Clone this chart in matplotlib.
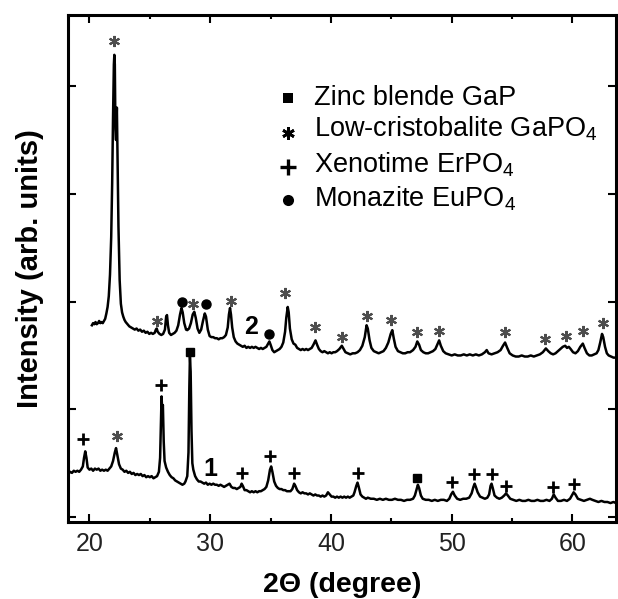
import matplotlib
matplotlib.use("Agg")
import matplotlib.pyplot as plt
from matplotlib.ticker import MultipleLocator

plt.rcParams['font.family'] = ['Liberation Sans', 'DejaVu Sans']
plt.rcParams['mathtext.fontset'] = 'custom'
plt.rcParams['mathtext.rm'] = 'Liberation Sans'
plt.rcParams['mathtext.it'] = 'Liberation Sans:italic'
plt.rcParams['mathtext.bf'] = 'Liberation Sans:bold'

# pattern 1 (bottom trace)
p1_theta = [18.25, 18.4, 18.55, 18.7, 18.85, 19.0, 19.15, 19.3, 19.45, 19.55, 19.65, 19.75, 19.85,
            20.0, 20.15, 20.3, 20.45, 20.6, 20.75, 20.9, 21.05, 21.2, 21.35, 21.5, 21.65, 21.8,
            21.95, 22.1, 22.2, 22.3, 22.45, 22.6, 22.75, 22.9, 23.05, 23.2, 23.35, 23.5, 23.65,
            23.8, 23.95, 24.1, 24.25, 24.4, 24.55, 24.7, 24.85, 25.0, 25.15, 25.3, 25.45, 25.6,
            25.75, 25.85, 25.92, 25.97, 26.02, 26.08, 26.15, 26.22, 26.35, 26.5, 26.65, 26.8,
            26.95, 27.1, 27.25, 27.4, 27.55, 27.7, 27.85, 27.95, 28.1, 28.2, 28.27, 28.32, 28.38,
            28.45, 28.52, 28.6, 28.75, 28.9, 29.05, 29.2, 29.35, 29.5, 29.65, 29.8, 29.95, 30.1,
            30.25, 30.4, 30.55, 30.7, 30.85, 31.0, 31.15, 31.3, 31.45, 31.6, 31.75, 31.9, 32.05,
            32.2, 32.35, 32.5, 32.6, 32.7, 32.85, 33.0, 33.15, 33.3, 33.45, 33.6, 33.75, 33.9,
            34.05, 34.2, 34.35, 34.5, 34.65, 34.8, 34.95, 35.05, 35.15, 35.3, 35.45, 35.6, 35.75,
            35.9, 36.05, 36.2, 36.35, 36.5, 36.65, 36.8, 36.95, 37.05, 37.2, 37.35, 37.5, 37.65,
            37.8, 37.95, 38.1, 38.25, 38.4, 38.55, 38.7, 38.85, 39.0, 39.15, 39.3, 39.45, 39.6,
            39.75, 39.9, 40.05, 40.2, 40.35, 40.5, 40.65, 40.8, 40.95, 41.1, 41.25, 41.4, 41.55,
            41.7, 41.85, 41.95, 42.1, 42.2, 42.3, 42.45, 42.6, 42.75, 42.9, 43.05, 43.3, 43.55,
            43.8, 44.05, 44.3, 44.55, 44.8, 45.05, 45.3, 45.55, 45.8, 46.05, 46.3, 46.55, 46.8,
            46.95, 47.1, 47.2, 47.3, 47.45, 47.6, 47.85, 48.1, 48.35, 48.6, 48.85, 49.1, 49.35,
            49.6, 49.8, 49.95, 50.1, 50.25, 50.45, 50.7, 50.95, 51.2, 51.45, 51.65, 51.8, 51.9,
            52.0, 52.15, 52.35, 52.55, 52.75, 52.95, 53.1, 53.22, 53.3, 53.4, 53.55, 53.75, 53.95,
            54.15, 54.35, 54.5, 54.65, 54.85, 55.1, 55.35, 55.6, 55.85, 56.1, 56.35, 56.6, 56.85,
            57.1, 57.35, 57.6, 57.85, 58.1, 58.3, 58.45, 58.6, 58.8, 59.05, 59.3, 59.55, 59.8,
            59.95, 60.1, 60.25, 60.45, 60.7, 60.95, 61.2, 61.45, 61.65, 61.9, 62.15, 62.4, 62.65,
            62.9, 63.15, 63.4, 63.6]
p1_int = [0.40, 0.42, 0.41, 0.43, 0.42, 0.43, 0.42, 0.44, 0.47, 0.55, 0.61, 0.55, 0.46,
          0.44, 0.45, 0.43, 0.45, 0.44, 0.45, 0.43, 0.44, 0.43, 0.44, 0.43, 0.45, 0.47,
          0.52, 0.60, 0.64, 0.58, 0.49, 0.45, 0.44, 0.42, 0.43, 0.41, 0.42, 0.40, 0.41,
          0.39, 0.40, 0.39, 0.40, 0.38, 0.39, 0.37, 0.38, 0.37, 0.38, 0.36, 0.37, 0.38,
          0.42, 0.55, 0.90, 1.12, 1.00, 1.04, 0.70, 0.52, 0.46, 0.42, 0.39, 0.37,
          0.36, 0.34, 0.33, 0.32, 0.31, 0.30, 0.31, 0.33, 0.38, 0.60, 1.20, 1.49, 1.35,
          0.80, 0.50, 0.44, 0.38, 0.35, 0.33, 0.33, 0.32, 0.31, 0.32, 0.30, 0.31, 0.30,
          0.31, 0.30, 0.30, 0.29, 0.30, 0.29, 0.28, 0.29, 0.30, 0.31, 0.28, 0.27, 0.27,
          0.26, 0.27, 0.28, 0.31, 0.29, 0.25, 0.25, 0.24, 0.23, 0.24, 0.23, 0.24, 0.23,
          0.24, 0.24, 0.25, 0.26, 0.28, 0.34, 0.44, 0.47, 0.42, 0.33, 0.29, 0.27, 0.26,
          0.26, 0.25, 0.25, 0.24, 0.24, 0.24, 0.26, 0.31, 0.29, 0.25, 0.23, 0.22, 0.23,
          0.22, 0.22, 0.21, 0.22, 0.21, 0.20, 0.21, 0.20, 0.20, 0.19, 0.20, 0.19, 0.20,
          0.23, 0.21, 0.19, 0.19, 0.18, 0.19, 0.18, 0.19, 0.18, 0.19, 0.18, 0.19, 0.18,
          0.19, 0.20, 0.23, 0.29, 0.32, 0.28, 0.21, 0.19, 0.18, 0.17, 0.18, 0.17, 0.17,
          0.16, 0.17, 0.16, 0.17, 0.16, 0.16, 0.17, 0.16, 0.16, 0.15, 0.16, 0.16, 0.17,
          0.20, 0.26, 0.30, 0.27, 0.20, 0.17, 0.16, 0.16, 0.15, 0.16, 0.15, 0.16, 0.16,
          0.15, 0.17, 0.21, 0.235, 0.20, 0.17, 0.16, 0.17, 0.17, 0.18, 0.22, 0.28, 0.31,
          0.28, 0.23, 0.19, 0.18, 0.17, 0.18, 0.21, 0.29, 0.31, 0.27, 0.20, 0.18, 0.17,
          0.18, 0.20, 0.22, 0.20, 0.17, 0.16, 0.15, 0.16, 0.15, 0.15, 0.16, 0.15, 0.15,
          0.16, 0.15, 0.15, 0.16, 0.15, 0.17, 0.21, 0.18, 0.15, 0.15, 0.16, 0.15, 0.17,
          0.20, 0.23, 0.21, 0.17, 0.16, 0.15, 0.16, 0.17, 0.16, 0.15, 0.14, 0.15, 0.14,
          0.14, 0.13, 0.14, 0.13]

# pattern 2 (top trace)
p2_theta = [20.2, 20.3, 20.4, 20.5, 20.6, 20.7, 20.8, 20.9, 21.0, 21.1, 21.2, 21.3, 21.4, 21.5,
            21.6, 21.7, 21.8, 21.88, 21.95, 22.02, 22.06, 22.1, 22.15, 22.2, 22.27, 22.32, 22.4,
            22.5, 22.6, 22.7, 22.8, 22.9, 23.0, 23.15, 23.3, 23.45, 23.6, 23.75, 23.9, 24.05,
            24.2, 24.35, 24.5, 24.65, 24.8, 24.95, 25.1, 25.25, 25.4, 25.5, 25.57, 25.65, 25.8,
            25.95, 26.1, 26.25, 26.35, 26.42, 26.5, 26.6, 26.75, 26.9, 27.05, 27.2, 27.35, 27.5,
            27.62, 27.72, 27.85, 28.0, 28.1, 28.25, 28.4, 28.55, 28.68, 28.8, 28.95, 29.1, 29.25,
            29.4, 29.55, 29.65, 29.8, 29.95, 30.1, 30.25, 30.4, 30.55, 30.7, 30.85, 31.0, 31.15,
            31.3, 31.45, 31.55, 31.64, 31.72, 31.82, 31.95, 32.1, 32.25, 32.4, 32.55, 32.7, 32.85,
            33.0, 33.15, 33.3, 33.45, 33.6, 33.75, 33.9, 34.05, 34.2, 34.35, 34.5, 34.65, 34.8,
            34.9, 35.0, 35.15, 35.3, 35.45, 35.6, 35.75, 35.9, 36.05, 36.2, 36.3, 36.42, 36.5,
            36.6, 36.75, 36.9, 37.05, 37.2, 37.35, 37.5, 37.65, 37.8, 37.95, 38.1, 38.25, 38.4,
            38.55, 38.72, 38.85, 39.0, 39.15, 39.3, 39.45, 39.6, 39.75, 39.9, 40.05, 40.2, 40.35,
            40.5, 40.7, 40.9, 41.05, 41.2, 41.4, 41.6, 41.8, 42.0, 42.2, 42.4, 42.6, 42.8, 42.95,
            43.05, 43.2, 43.35, 43.55, 43.75, 43.95, 44.15, 44.35, 44.55, 44.75, 44.95, 45.08,
            45.2, 45.35, 45.55, 45.75, 45.95, 46.15, 46.35, 46.55, 46.8, 47.0, 47.15, 47.3, 47.45,
            47.65, 47.85, 48.05, 48.25, 48.45, 48.65, 48.85, 48.96, 49.1, 49.3, 49.5, 49.75, 50.0,
            50.25, 50.5, 50.75, 51.0, 51.25, 51.5, 51.75, 52.0, 52.25, 52.5, 52.75, 52.9, 53.05,
            53.3, 53.55, 53.8, 54.05, 54.25, 54.42, 54.6, 54.8, 55.05, 55.3, 55.55, 55.8, 56.05,
            56.3, 56.55, 56.8, 57.05, 57.3, 57.55, 57.8, 58.0, 58.2, 58.4, 58.6, 58.8, 59.0, 59.2,
            59.4, 59.55, 59.7, 59.85, 60.05, 60.25, 60.45, 60.65, 60.86, 61.0, 61.2, 61.4, 61.6,
            61.8, 62.0, 62.15, 62.3, 62.45, 62.55, 62.7, 62.85, 63.0, 63.2, 63.4, 63.6]
p2_int = [1.78, 1.80, 1.79, 1.81, 1.79, 1.80, 1.82, 1.80, 1.81, 1.80, 1.82, 1.84, 1.89, 1.95,
          2.05, 2.25, 2.60, 3.10, 3.70, 4.20, 4.29, 4.20, 3.60, 3.50, 3.80, 3.40, 2.70,
          2.20, 1.98, 1.90, 1.86, 1.83, 1.81, 1.79, 1.77, 1.76, 1.75, 1.74, 1.75, 1.73,
          1.74, 1.72, 1.73, 1.71, 1.72, 1.70, 1.71, 1.70, 1.71, 1.74, 1.75, 1.72, 1.70,
          1.69, 1.70, 1.74, 1.86, 1.875, 1.78, 1.71, 1.69, 1.70, 1.71, 1.73, 1.78, 1.88,
          1.94, 1.90, 1.80, 1.74, 1.735, 1.75, 1.80, 1.88, 1.905, 1.85, 1.75, 1.71, 1.74,
          1.82, 1.89, 1.86, 1.74, 1.68, 1.67, 1.67, 1.66, 1.66, 1.65, 1.66, 1.66, 1.67,
          1.69, 1.76, 1.88, 1.94, 1.88, 1.76, 1.67, 1.63, 1.61, 1.60, 1.59, 1.58, 1.59,
          1.57, 1.58, 1.57, 1.58, 1.57, 1.58, 1.57, 1.56, 1.57, 1.56, 1.57, 1.58, 1.61,
          1.63, 1.60, 1.55, 1.53, 1.54, 1.55, 1.56, 1.58, 1.62, 1.72, 1.85, 1.95, 1.90,
          1.75, 1.65, 1.61, 1.60, 1.57, 1.56, 1.55, 1.56, 1.55, 1.56, 1.55, 1.56, 1.57,
          1.60, 1.64, 1.60, 1.56, 1.54, 1.53, 1.54, 1.53, 1.52, 1.53, 1.52, 1.53, 1.53,
          1.54, 1.56, 1.59, 1.56, 1.53, 1.52, 1.51, 1.52, 1.52, 1.53, 1.55, 1.59, 1.67, 1.78,
          1.75, 1.64, 1.57, 1.54, 1.53, 1.52, 1.53, 1.54, 1.57, 1.62, 1.70, 1.735,
          1.66, 1.58, 1.54, 1.53, 1.52, 1.52, 1.53, 1.53, 1.55, 1.58, 1.63, 1.60, 1.55,
          1.53, 1.52, 1.52, 1.53, 1.54, 1.56, 1.61, 1.64, 1.59, 1.54, 1.52, 1.51, 1.50,
          1.51, 1.50, 1.50, 1.51, 1.50, 1.51, 1.50, 1.51, 1.50, 1.51, 1.53, 1.55, 1.52,
          1.51, 1.52, 1.53, 1.55, 1.59, 1.62, 1.57, 1.52, 1.50, 1.49, 1.49, 1.50, 1.49,
          1.49, 1.50, 1.49, 1.50, 1.51, 1.53, 1.565, 1.54, 1.52, 1.51, 1.52, 1.54, 1.56, 1.58,
          1.59, 1.57, 1.58, 1.56, 1.53, 1.52, 1.54, 1.58, 1.61, 1.57, 1.52, 1.50, 1.50,
          1.51, 1.52, 1.55, 1.62, 1.70, 1.67, 1.58, 1.52, 1.50, 1.49, 1.48, 1.48]

# phase markers above the peaks
p1_xen_x = [19.5, 25.9, 32.6, 34.95, 36.9, 42.2, 50.05, 51.85, 53.3, 54.5, 58.4, 60.1]
p1_xen_y = [0.72, 1.23, 0.41, 0.57, 0.41, 0.41, 0.33, 0.40, 0.40, 0.29, 0.28, 0.31]
p1_crist_x = [22.25]
p1_crist_y = [0.75]
p1_gap_x = [28.3, 47.15]
p1_gap_y = [1.53, 0.36]
p2_crist_x = [22.05, 25.57, 28.6, 31.7, 36.2, 38.7, 40.95, 43.0, 45.0, 47.15, 48.95,
              54.4, 57.7, 59.5, 60.85, 62.5]
p2_crist_y = [4.42, 1.82, 1.98, 2.01, 2.08, 1.76, 1.67, 1.87, 1.83, 1.72, 1.73,
              1.72, 1.65, 1.68, 1.73, 1.80]
p2_mon_x = [27.64, 29.63, 34.87]
p2_mon_y = [2.00, 1.98, 1.70]

legend_labels = ['Zinc blende GaP', 'Low-cristobalite GaPO$_4$',
                 'Xenotime ErPO$_4$', 'Monazite EuPO$_4$']

fig = plt.figure(figsize=(6.18, 5.99), dpi=100)
ax = fig.add_axes([0.110, 0.1285, 0.887, 0.8465])

ax.plot(p1_theta, p1_int, color='black', lw=1.8)
ax.plot(p2_theta, p2_int, color='black', lw=1.8)

star = (6, 2, 0)
ax.plot(p1_xen_x, p1_xen_y, ls='none', marker='+', ms=9, mew=2.0, color='black')
ax.plot(p1_crist_x, p1_crist_y, ls='none', marker=star, ms=8, mew=1.5, color='0.3')
ax.plot(p1_gap_x, p1_gap_y, ls='none', marker='s', ms=6, color='black')
ax.plot(p2_crist_x, p2_crist_y, ls='none', marker=star, ms=8, mew=1.5, color='0.3')
ax.plot(p2_mon_x, p2_mon_y, ls='none', marker='o', ms=6.5, color='black')

ax.text(30.05, 0.45, '1', fontsize=18, fontweight='bold', ha='center', va='center')
ax.text(33.35, 1.76, '2', fontsize=18, fontweight='bold', ha='center', va='center')

# legend drawn by hand in axes coordinates
leg_marks = [dict(marker='s', ms=7, mew=0), dict(marker=star, ms=9, mew=2),
             dict(marker='+', ms=11, mew=2.4), dict(marker='o', ms=8, mew=0)]
mark_y = [0.837, 0.767, 0.700, 0.635]
text_y = [0.8225, 0.7594, 0.6903, 0.6213]
for lab, mk, my, ty in zip(legend_labels, leg_marks, mark_y, text_y):
    ax.plot([0.401], [my], ls='none', color='black', transform=ax.transAxes, **mk)
    ax.text(0.448, ty, lab, fontsize=19.5, va='baseline', ha='left', transform=ax.transAxes)

ax.set_xlim(18.22, 63.62)
ax.set_ylim(-0.046, 4.66)
ax.xaxis.set_major_locator(MultipleLocator(10))
ax.xaxis.set_minor_locator(MultipleLocator(5))
ax.yaxis.set_major_locator(MultipleLocator(1))
ax.set_yticklabels([])
ax.tick_params(which='both', direction='in', top=True, right=True, width=1.5)
ax.tick_params(which='major', length=6)
ax.tick_params(which='minor', length=3)
ax.tick_params(axis='x', labelsize=18, pad=7, labelcolor='#222222')
for s in ax.spines.values():
    s.set_linewidth(2.2)

ax.set_xlabel('2\u0398 (degree)', fontsize=20.5, fontweight='bold', labelpad=12)
ax.set_ylabel('Intensity (arb. units)', fontsize=21, fontweight='bold', labelpad=14)

fig.savefig('out.png', dpi=100)
